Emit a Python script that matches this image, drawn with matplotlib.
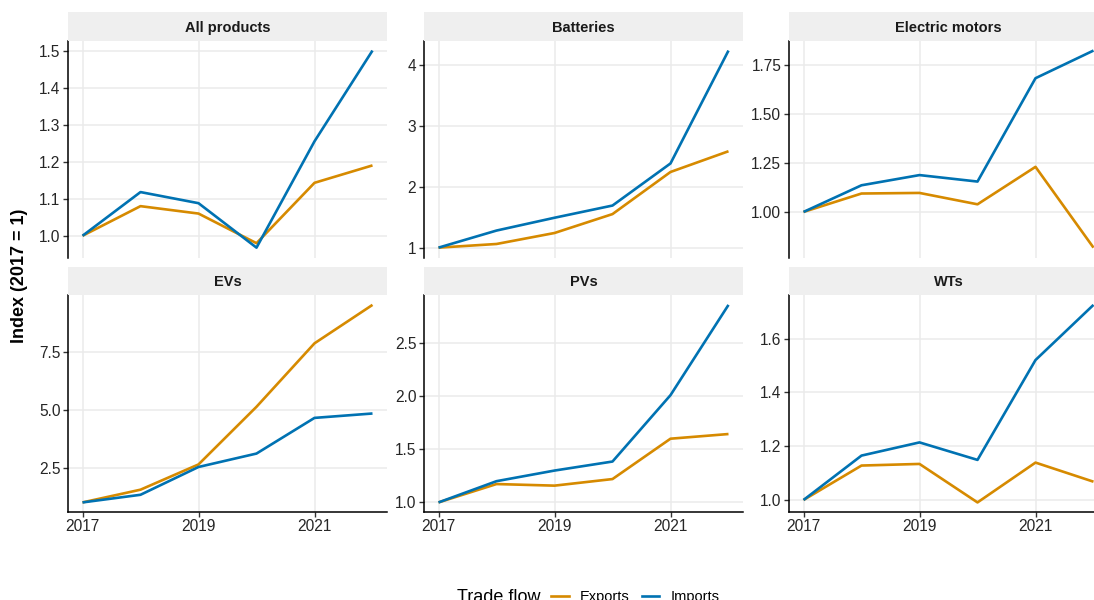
import numpy as np
import matplotlib
matplotlib.use("Agg")
import matplotlib.pyplot as plt
from matplotlib.lines import Line2D

plt.rcParams['font.family'] = ['Liberation Sans', 'DejaVu Sans']

years = [2017, 2018, 2019, 2020, 2021, 2022]
panels = ["All products", "Batteries", "Electric motors", "EVs", "PVs", "WTs"]

exports = {
    "All products":    [1.0, 1.080, 1.060, 0.980, 1.143, 1.190],
    "Batteries":       [1.0, 1.060, 1.240, 1.550, 2.240, 2.580],
    "Electric motors": [1.0, 1.094, 1.097, 1.039, 1.230, 0.818],
    "EVs":             [1.0, 1.550, 2.640, 5.130, 7.870, 9.530],
    "PVs":             [1.0, 1.173, 1.158, 1.220, 1.600, 1.644],
    "WTs":             [1.0, 1.128, 1.134, 0.991, 1.139, 1.068],
}
imports = {
    "All products":    [1.0, 1.118, 1.088, 0.968, 1.255, 1.500],
    "Batteries":       [1.0, 1.280, 1.490, 1.690, 2.380, 4.230],
    "Electric motors": [1.0, 1.136, 1.188, 1.155, 1.682, 1.823],
    "EVs":             [1.0, 1.330, 2.530, 3.110, 4.650, 4.840],
    "PVs":             [1.0, 1.200, 1.300, 1.385, 2.010, 2.860],
    "WTs":             [1.0, 1.165, 1.214, 1.149, 1.520, 1.725],
}
yticks = {
    "All products":    [1.0, 1.1, 1.2, 1.3, 1.4, 1.5],
    "Batteries":       [1, 2, 3, 4],
    "Electric motors": [1.00, 1.25, 1.50, 1.75],
    "EVs":             [2.5, 5.0, 7.5],
    "PVs":             [1.0, 1.5, 2.0, 2.5],
    "WTs":             [1.0, 1.2, 1.4, 1.6],
}
yfmt = {
    "All products": "{:.1f}", "Batteries": "{:.0f}", "Electric motors": "{:.2f}",
    "EVs": "{:.1f}", "PVs": "{:.1f}", "WTs": "{:.1f}",
}
xticks = [2017, 2019, 2021]

col_exp = "#D68A00"
col_imp = "#0072B2"

W, H = 1094, 600
fig = plt.figure(figsize=(W / 100, H / 100), dpi=100)

lefts = [68, 424, 789]
pw = 319
rows = [(40.7, 257.5, 12.3), (295.0, 512.3, 266.7)]  # panel top, panel bottom, strip top

for i, name in enumerate(panels):
    r, c = divmod(i, 3)
    ptop, pbot, stop = rows[r]
    ax = fig.add_axes([lefts[c] / W, (H - pbot) / H, pw / W, (pbot - ptop) / H])
    sx = fig.add_axes([lefts[c] / W, (H - ptop) / H, pw / W, (ptop - stop) / H])
    sx.set_facecolor("#EFEFEF")
    sx.set_xticks([]); sx.set_yticks([])
    for s in sx.spines.values():
        s.set_visible(False)
    sx.text(0.5, 0.45, name, ha="center", va="center", fontsize=10.5,
            fontweight="bold", color="#1A1A1A", transform=sx.transAxes)

    ax.plot(years, exports[name], color=col_exp, lw=1.9, solid_capstyle="butt", zorder=3)
    ax.plot(years, imports[name], color=col_imp, lw=1.9, solid_capstyle="butt", zorder=3)

    allv = exports[name] + imports[name]
    lo, hi = min(allv), max(allv)
    pad = (hi - lo) * 0.05
    ax.set_ylim(lo - pad, hi + pad)
    ax.set_xlim(2017 - 0.25, 2022 + 0.25)

    ax.set_yticks(yticks[name])
    ax.set_yticklabels([yfmt[name].format(v) for v in yticks[name]])
    ax.set_xticks(xticks)
    ax.grid(True, color="#EBEBEB", lw=1.1, zorder=0)
    ax.set_axisbelow(True)

    for s in ["top", "right"]:
        ax.spines[s].set_visible(False)
    ax.spines["left"].set_linewidth(1.1)
    ax.spines["left"].set_color("black")
    ax.tick_params(axis="y", length=3.5, width=1.0, color="#333333",
                   labelsize=11.2, labelcolor="#262626", pad=2)
    if r == 0:
        ax.spines["bottom"].set_visible(False)
        ax.tick_params(axis="x", length=0, labelbottom=False)
    else:
        ax.spines["bottom"].set_linewidth(1.1)
        ax.spines["bottom"].set_color("black")
        ax.tick_params(axis="x", length=3.5, width=1.0, color="#333333",
                       labelsize=11.2, labelcolor="#262626", pad=1.5)

fig.text(20 / W, (H - 276) / H, "Index (2017 = 1)", rotation=90, ha="center",
         va="center", fontsize=13, fontweight="bold", color="black")

# legend at the bottom (cropped like the original)
fig.text(457 / W, (H - 597) / H, "Trade flow", ha="left", va="center",
         fontsize=13, color="black")
handles = [Line2D([], [], color=col_exp, lw=1.9), Line2D([], [], color=col_imp, lw=1.9)]
fig.legend(handles, ["Exports", "Imports"], ncol=2, loc="center left",
           bbox_to_anchor=(551 / W, (H - 597) / H), frameon=False, fontsize=10.5,
           handlelength=1.2, handletextpad=0.8, columnspacing=0.8,
           borderpad=0, borderaxespad=0)

fig.savefig("out.png", dpi=100)
